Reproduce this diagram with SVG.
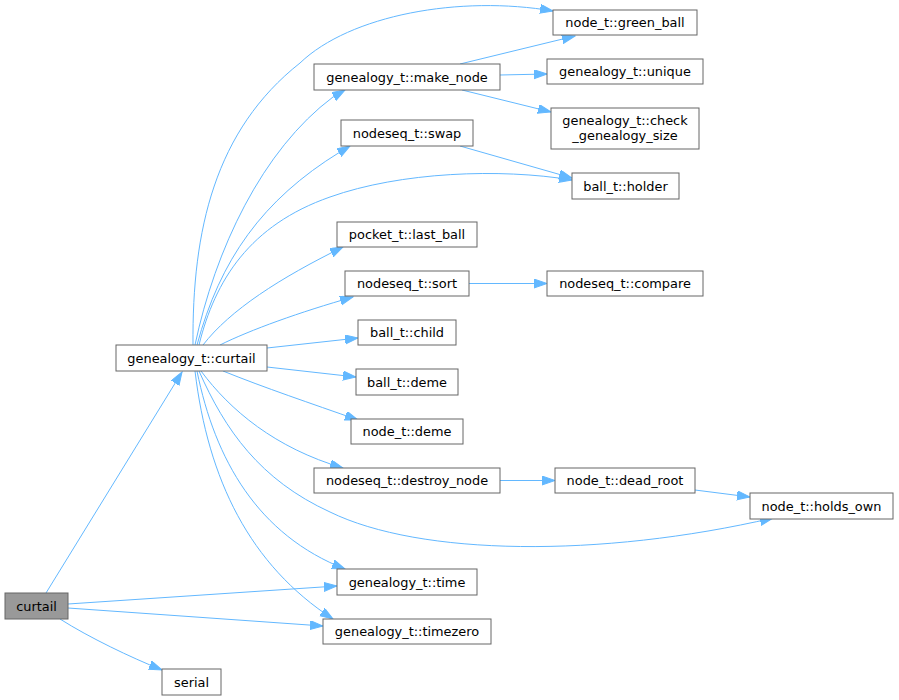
<svg xmlns="http://www.w3.org/2000/svg" width="899" height="700" viewBox="0 0 899 700">
<style>
.n rect{fill:#ffffff;stroke:#666666;stroke-width:1}
.n.hl rect{fill:#999999}
.n text{font-family:"DejaVu Sans","Liberation Sans",sans-serif;font-size:12.9px;fill:#000000;text-anchor:middle}
.e path{fill:none;stroke:#63b8ff;stroke-width:1;marker-end:url(#ah)}
</style>
<defs>
<marker id="ah" markerUnits="userSpaceOnUse" markerWidth="14" markerHeight="10" refX="13" refY="4.5" orient="auto">
<path d="M0,0 L13,4.5 L0,9 Z" fill="#63b8ff" stroke="#63b8ff" stroke-width="1"/>
</marker>
</defs>
<rect width="899" height="700" fill="#ffffff"/>
<g id="edges" class="e">
<path d="M46,593 L182,372"/>
<path d="M60,619 C90,638 130,657 162,670"/>
<path d="M68,604 L337,586"/>
<path d="M68,608 L323,626"/>
<path d="M193,345 C192,230 215,130 300,63 C350,15 460,-5 553,11"/>
<path d="M195,345 C215,250 262,150 333,97 L345,90"/>
<path d="M197,345 C220,260 262,200 340,152 L350,146"/>
<path d="M199,345 C215,280 250,225 330,197 C400,172 500,168 572,180"/>
<path d="M203,345 C230,310 280,278 343,247"/>
<path d="M220,345 C250,330 300,312 353,297"/>
<path d="M267,348 L358,338"/>
<path d="M267,367 L356,377"/>
<path d="M223,371 C265,388 310,403 358,420"/>
<path d="M201,371 C230,410 275,448 343,468"/>
<path d="M199,371 C225,430 260,480 330,512 C420,556 600,558 773,518"/>
<path d="M197,371 C215,460 258,535 345,569"/>
<path d="M195,371 C208,480 250,565 333,619"/>
<path d="M460,64 L575,36"/>
<path d="M500,75 L547,74"/>
<path d="M462,90 L551,112"/>
<path d="M460,146 L572,178"/>
<path d="M469,283.5 L547,283.5"/>
<path d="M500,480.5 L555,480.5"/>
<path d="M695,490 L750,497"/>
</g>
<g id="n_curtail" class="n hl"><rect x="5" y="593" width="63" height="26"/><text x="36.5" y="610.5">curtail</text></g>
<g id="n_genealogy_curtail" class="n"><rect x="116" y="345" width="151" height="26"/><text x="191.5" y="362.5">genealogy_t::curtail</text></g>
<g id="n_serial" class="n"><rect x="162" y="669" width="59" height="26"/><text x="191.5" y="686.5">serial</text></g>
<g id="n_green_ball" class="n"><rect x="553" y="10" width="144" height="25"/><text x="625" y="27">node_t::green_ball</text></g>
<g id="n_make_node" class="n"><rect x="314" y="64" width="186" height="26"/><text x="407" y="81.5">genealogy_t::make_node</text></g>
<g id="n_unique" class="n"><rect x="547" y="59" width="156" height="25"/><text x="625" y="76">genealogy_t::unique</text></g>
<g id="n_check" class="n"><rect x="551" y="108" width="148" height="41"/><text x="625" y="125">genealogy_t::check</text><text x="625" y="140">_genealogy_size</text></g>
<g id="n_swap" class="n"><rect x="341" y="120" width="132" height="26"/><text x="407" y="137.5">nodeseq_t::swap</text></g>
<g id="n_holder" class="n"><rect x="572" y="173" width="107" height="26"/><text x="625.5" y="190.5">ball_t::holder</text></g>
<g id="n_last_ball" class="n"><rect x="337" y="222" width="140" height="25"/><text x="407" y="239">pocket_t::last_ball</text></g>
<g id="n_sort" class="n"><rect x="345" y="271" width="124" height="25"/><text x="407" y="288">nodeseq_t::sort</text></g>
<g id="n_compare" class="n"><rect x="547" y="271" width="156" height="25"/><text x="625" y="288">nodeseq_t::compare</text></g>
<g id="n_child" class="n"><rect x="358" y="320" width="98" height="25"/><text x="407" y="337">ball_t::child</text></g>
<g id="n_ball_deme" class="n"><rect x="356" y="369" width="102" height="26"/><text x="407" y="386.5">ball_t::deme</text></g>
<g id="n_node_deme" class="n"><rect x="351" y="419" width="112" height="25"/><text x="407" y="436">node_t::deme</text></g>
<g id="n_destroy_node" class="n"><rect x="314" y="468" width="186" height="25"/><text x="407" y="485">nodeseq_t::destroy_node</text></g>
<g id="n_dead_root" class="n"><rect x="555" y="468" width="140" height="25"/><text x="625" y="485">node_t::dead_root</text></g>
<g id="n_holds_own" class="n"><rect x="750" y="493" width="143" height="26"/><text x="821.5" y="510.5">node_t::holds_own</text></g>
<g id="n_time" class="n"><rect x="337" y="569" width="140" height="26"/><text x="407" y="586.5">genealogy_t::time</text></g>
<g id="n_timezero" class="n"><rect x="323" y="619" width="168" height="25"/><text x="407" y="636">genealogy_t::timezero</text></g>
</svg>
